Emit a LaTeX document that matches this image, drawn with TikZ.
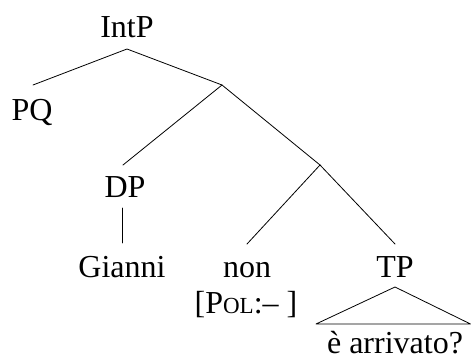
\documentclass[tikz,border=0pt]{standalone}
\usepackage{fontspec}
\setmainfont{Liberation Serif}
\newcommand{\fakesc}[1]{{\fontsize{23}{23}\selectfont #1}}
\begin{document}
\begin{tikzpicture}[x=1pt,y=-1pt,
  lbl/.style={anchor=base,inner sep=0pt,font=\fontsize{32}{34}\selectfont},
  branch/.style={line width=0.8pt,line cap=round}]
\useasboundingbox (0,0) rectangle (471,359);

% labels
\node[lbl] (intp) at (127,37) {IntP};
\node[lbl] (pq) at (32,120) {PQ};
\node[lbl] (dp) at (125,197) {DP};
\node[lbl] (gianni) at (122,277) {Gianni};
\node[lbl] (non) at (247,277) {non};
\node[lbl] (pol) at (246,313) {[P\fakesc{OL}:– ]};
\node[lbl] (tp) at (395,277) {TP};
\node[lbl] (arr) at (395,353.5) {è arrivato?};

% branching points
\coordinate (intp-b) at (127,49);
\coordinate (pq-t) at (33,85);
\coordinate (x1) at (222,85);
\coordinate (dp-t) at (123,165);
\coordinate (x2) at (320,165);
\coordinate (dp-b) at (122,208);
\coordinate (gianni-t) at (122,243);
\coordinate (non-t) at (247,244);
\coordinate (tp-t) at (395,244);
\coordinate (tp-b) at (395,287);
\coordinate (tri-l) at (316,324);
\coordinate (tri-r) at (470.5,324);

% branches
\draw[branch] (pq-t) -- (intp-b) -- (x1);
\draw[branch] (dp-t) -- (x1) -- (x2);
\draw[branch] (non-t) -- (x2) -- (tp-t);
\draw[branch] (dp-b) -- (gianni-t);
\draw[branch,line join=round] (tri-l) -- (tp-b) -- (tri-r) -- cycle;
\end{tikzpicture}
\end{document}
